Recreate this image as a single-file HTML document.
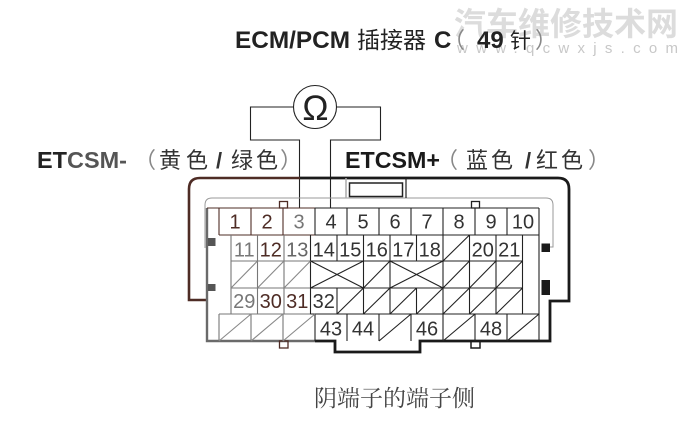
<!DOCTYPE html>
<html><head><meta charset="utf-8"><style>
html,body{margin:0;padding:0;background:#fff;}
svg{display:block;}
</style></head><body>
<svg width="689" height="438" viewBox="0 0 689 438" xmlns="http://www.w3.org/2000/svg">
<rect width="689" height="438" fill="#fff"/>
<!-- watermark -->
<text x="454" y="35" font-family="'Noto Sans CJK SC',sans-serif" font-weight="bold" font-size="32" fill="#dcdcdc">汽车维修技术网</text>
<text x="457" y="53" font-family="'Liberation Sans',sans-serif" font-size="15" fill="#c8c8c8" textLength="221" lengthAdjust="spacing">www.qcwxjs.com</text>

<!-- title -->
<g fill="#222">
<text x="235" y="48" font-family="'Liberation Sans',sans-serif" font-weight="bold" font-size="24" textLength="115" lengthAdjust="spacingAndGlyphs">ECM/PCM</text>
<text x="357" y="48" font-family="'Liberation Sans','Noto Sans CJK SC',sans-serif" font-size="23">插接器</text>
<text x="434" y="48" font-family="'Liberation Sans',sans-serif" font-weight="bold" font-size="24">C</text>
<text x="443" y="48" font-family="'Liberation Sans','Noto Sans CJK SC',sans-serif" font-size="22" fill="#888">（</text>
<text x="477" y="48" font-family="'Liberation Sans',sans-serif" font-weight="bold" font-size="24">49</text>
<text x="510" y="48" font-family="'Liberation Sans','Noto Sans CJK SC',sans-serif" font-size="21">针</text>
<text x="535" y="48" font-family="'Liberation Sans','Noto Sans CJK SC',sans-serif" font-size="22" fill="#888">）</text>
</g>

<!-- ohmmeter -->
<g stroke="#222" stroke-width="1.1" fill="none">
<circle cx="315" cy="107" r="21.5"/>
<polyline points="293.5,107 250.5,107 250.5,140 299.5,140 299.5,208"/>
<polyline points="336.5,107 380.5,107 380.5,140 330.5,140 330.5,208"/>
</g>
<text x="315.5" y="120" text-anchor="middle" font-family="'Liberation Sans',sans-serif" font-size="35" fill="#222">Ω</text>

<!-- labels -->
<g font-family="'Liberation Sans','Noto Sans CJK SC',sans-serif">
<text x="37" y="168" font-weight="bold" font-size="23" textLength="90" lengthAdjust="spacingAndGlyphs" fill="#222">ET<tspan fill="#555">CSM-</tspan></text>
<text x="134" y="168" font-size="22" fill="#888">（</text>
<text x="159" y="168" font-size="22" fill="#333">黄</text>
<text x="186" y="168" font-size="22" fill="#333">色</text>
<text x="216" y="168" font-size="22" font-weight="bold" fill="#333">/</text>
<text x="231" y="168" font-size="22" fill="#333">绿</text>
<text x="256" y="168" font-size="22" fill="#333">色</text>
<text x="280" y="168" font-size="22" fill="#888">）</text>

<text x="345" y="168" font-weight="bold" font-size="23" textLength="95" lengthAdjust="spacingAndGlyphs" fill="#1a1a1a">ETCSM+</text>
<text x="436" y="168" font-size="22" fill="#888">（</text>
<text x="466" y="168" font-size="22" fill="#333">蓝</text>
<text x="491" y="168" font-size="22" fill="#333">色</text>
<text x="525" y="168" font-size="22" font-weight="bold" fill="#333">/</text>
<text x="536" y="168" font-size="22" fill="#333">红</text>
<text x="561" y="168" font-size="22" fill="#333">色</text>
<text x="588" y="168" font-size="22" fill="#888">）</text>
</g>

<!-- connector shell -->
<g fill="none" stroke-linejoin="miter">
<path d="M207,300 L189,300 L189,189 Q189,178 200,178 L300,178" stroke="#4e2c25" stroke-width="2.6"/>
<path d="M300,178 L558,178 Q569,178 569,189 L569,301 L550,301 L550,341 L420,341 L420,352 L335,352 L335,341 L315,341" stroke="#1a1a1a" stroke-width="2.8"/>
<path d="M315,341 L207,341 L207,208" stroke="#6a6a6a" stroke-width="2.4"/>
<!-- thin inner rounded line -->
<path d="M205,248 L205,205 Q205,198 212,198 L546,198 Q553,198 553,205 L553,247 L550,247" stroke="#999" stroke-width="1"/>
<!-- key -->
<line x1="346" y1="178" x2="346" y2="198" stroke="#aaa" stroke-width="1.5"/>
<line x1="406" y1="178" x2="406" y2="198" stroke="#222" stroke-width="1.2"/>
<rect x="349.5" y="183" width="53" height="13.5" stroke="#222" stroke-width="1.5"/>
<!-- tabs -->
<rect x="279.5" y="201.5" width="8" height="6.5" stroke="#4e2c25" stroke-width="1.3"/>
<rect x="471.5" y="201.5" width="8" height="6.5" stroke="#222" stroke-width="1.3"/>
<rect x="279.5" y="341" width="8.5" height="7" stroke="#4e2c25" stroke-width="1.3"/>
<rect x="471" y="341" width="9" height="7" stroke="#1a1a1a" stroke-width="1.5"/>
</g>
<!-- dark squares -->
<rect x="208" y="238" width="7.5" height="8" fill="#555"/>
<rect x="208" y="284" width="7.5" height="7" fill="#555"/>
<rect x="541.5" y="243.5" width="8.5" height="8.5" fill="#1a1a1a"/>
<rect x="541.5" y="280" width="8.5" height="15" fill="#1a1a1a"/>

<!-- grid -->
<g stroke-width="1.1" fill="none">
<line x1="207" y1="208" x2="315" y2="208" stroke="#4e2c25"/>
<line x1="315" y1="208" x2="539" y2="208" stroke="#222"/>
<line x1="539" y1="208" x2="539" y2="341" stroke="#222"/>
<line x1="219" y1="235" x2="315" y2="235" stroke="#4e2c25"/>
<line x1="315" y1="235" x2="539" y2="235" stroke="#222"/>
<g stroke="#4e2c25">
<line x1="219" y1="208" x2="219" y2="235"/><line x1="251" y1="208" x2="251" y2="235"/><line x1="283" y1="208" x2="283" y2="235"/>
</g>
<g stroke="#222">
<line x1="315" y1="208" x2="315" y2="235"/><line x1="347" y1="208" x2="347" y2="235"/><line x1="379" y1="208" x2="379" y2="235"/><line x1="411" y1="208" x2="411" y2="235"/><line x1="443" y1="208" x2="443" y2="235"/><line x1="475" y1="208" x2="475" y2="235"/><line x1="507" y1="208" x2="507" y2="235"/>
</g>
<line x1="231" y1="261" x2="310.5" y2="261" stroke="#777"/>
<line x1="310.5" y1="261" x2="522.5" y2="261" stroke="#222"/>
<line x1="231" y1="288" x2="310.5" y2="288" stroke="#777"/>
<line x1="310.5" y1="288" x2="522.5" y2="288" stroke="#222"/>
<line x1="219" y1="314" x2="310.5" y2="314" stroke="#777"/>
<line x1="310.5" y1="314" x2="539" y2="314" stroke="#222"/>
<g stroke="#777">
<line x1="231" y1="235" x2="231" y2="314"/><line x1="257.5" y1="235" x2="257.5" y2="314"/><line x1="284" y1="235" x2="284" y2="314"/>
</g>
<g stroke="#222">
<line x1="310.5" y1="235" x2="310.5" y2="314"/>
<line x1="337" y1="235" x2="337" y2="261"/><line x1="337" y1="288" x2="337" y2="314"/>
<line x1="363.5" y1="235" x2="363.5" y2="314"/>
<line x1="390" y1="235" x2="390" y2="314"/>
<line x1="416.5" y1="235" x2="416.5" y2="261"/><line x1="416.5" y1="288" x2="416.5" y2="314"/>
<line x1="443" y1="235" x2="443" y2="314"/>
<line x1="469.5" y1="235" x2="469.5" y2="314"/>
<line x1="496" y1="235" x2="496" y2="314"/>
<line x1="522.5" y1="235" x2="522.5" y2="314"/>
</g>
<g stroke="#777">
<line x1="219" y1="314" x2="219" y2="341"/><line x1="251" y1="314" x2="251" y2="341"/><line x1="283" y1="314" x2="283" y2="341"/>
</g>
<g stroke="#222">
<line x1="315" y1="314" x2="315" y2="341"/><line x1="347" y1="314" x2="347" y2="341"/><line x1="379" y1="314" x2="379" y2="341"/><line x1="411" y1="314" x2="411" y2="341"/><line x1="443" y1="314" x2="443" y2="341"/><line x1="475" y1="314" x2="475" y2="341"/><line x1="507" y1="314" x2="507" y2="341"/>
</g>
<g stroke="#888">
<line x1="231" y1="288" x2="257.5" y2="261"/><line x1="257.5" y1="288" x2="284" y2="261"/><line x1="284" y1="288" x2="310.5" y2="261"/>
<line x1="219" y1="341" x2="251" y2="314"/><line x1="251" y1="341" x2="283" y2="314"/><line x1="283" y1="341" x2="315" y2="314"/>
</g>
<g stroke="#222">
<line x1="443" y1="261" x2="469.5" y2="235"/>
<line x1="310.5" y1="261" x2="363.5" y2="288"/><line x1="310.5" y1="288" x2="363.5" y2="261"/>
<line x1="363.5" y1="288" x2="390" y2="261"/>
<line x1="390" y1="261" x2="443" y2="288"/><line x1="390" y1="288" x2="443" y2="261"/>
<line x1="443" y1="288" x2="469.5" y2="261"/><line x1="469.5" y1="288" x2="496" y2="261"/><line x1="496" y1="288" x2="522.5" y2="261"/>
<line x1="337" y1="314" x2="363.5" y2="288"/><line x1="363.5" y1="314" x2="390" y2="288"/><line x1="390" y1="314" x2="416.5" y2="288"/><line x1="416.5" y1="314" x2="443" y2="288"/><line x1="443" y1="314" x2="469.5" y2="288"/><line x1="469.5" y1="314" x2="496" y2="288"/><line x1="496" y1="314" x2="522.5" y2="288"/>
<line x1="379" y1="341" x2="411" y2="314"/><line x1="443" y1="341" x2="475" y2="314"/><line x1="507" y1="341" x2="539" y2="314"/>
</g>
</g>

<!-- pin numbers -->
<g font-family="'Liberation Sans',sans-serif" font-size="20" text-anchor="middle" fill="#333">
<text x="235" y="228.5" fill="#4e2c25">1</text><text x="267" y="228.5" fill="#4e2c25">2</text><text x="299" y="228.5" fill="#777">3</text><text x="331" y="228.5">4</text><text x="363" y="228.5">5</text><text x="395" y="228.5">6</text><text x="427" y="228.5">7</text><text x="459" y="228.5">8</text><text x="491" y="228.5">9</text><text x="523" y="228.5">10</text>
<text x="244.25" y="256.5" fill="#777">11</text><text x="270.75" y="256.5" fill="#4e2c25">12</text><text x="297.25" y="256.5" fill="#666">13</text><text x="323.75" y="256.5">14</text><text x="350.25" y="256.5">15</text><text x="376.75" y="256.5">16</text><text x="403.25" y="256.5">17</text><text x="429.75" y="256.5">18</text><text x="482.75" y="256.5">20</text><text x="509.25" y="256.5">21</text>
<text x="244.25" y="308" fill="#777">29</text><text x="270.75" y="308" fill="#4e2c25">30</text><text x="297.25" y="308" fill="#4e2c25">31</text><text x="323.75" y="308">32</text>
<text x="331" y="335.5">43</text><text x="363" y="335.5">44</text><text x="427" y="335.5">46</text><text x="491" y="335.5">48</text>
</g>

<!-- bottom caption -->
<text x="314" y="406" font-family="'Liberation Serif','Noto Serif CJK SC',serif" font-size="23" fill="#444">阴端子的端子侧</text>
</svg>
</body></html>
